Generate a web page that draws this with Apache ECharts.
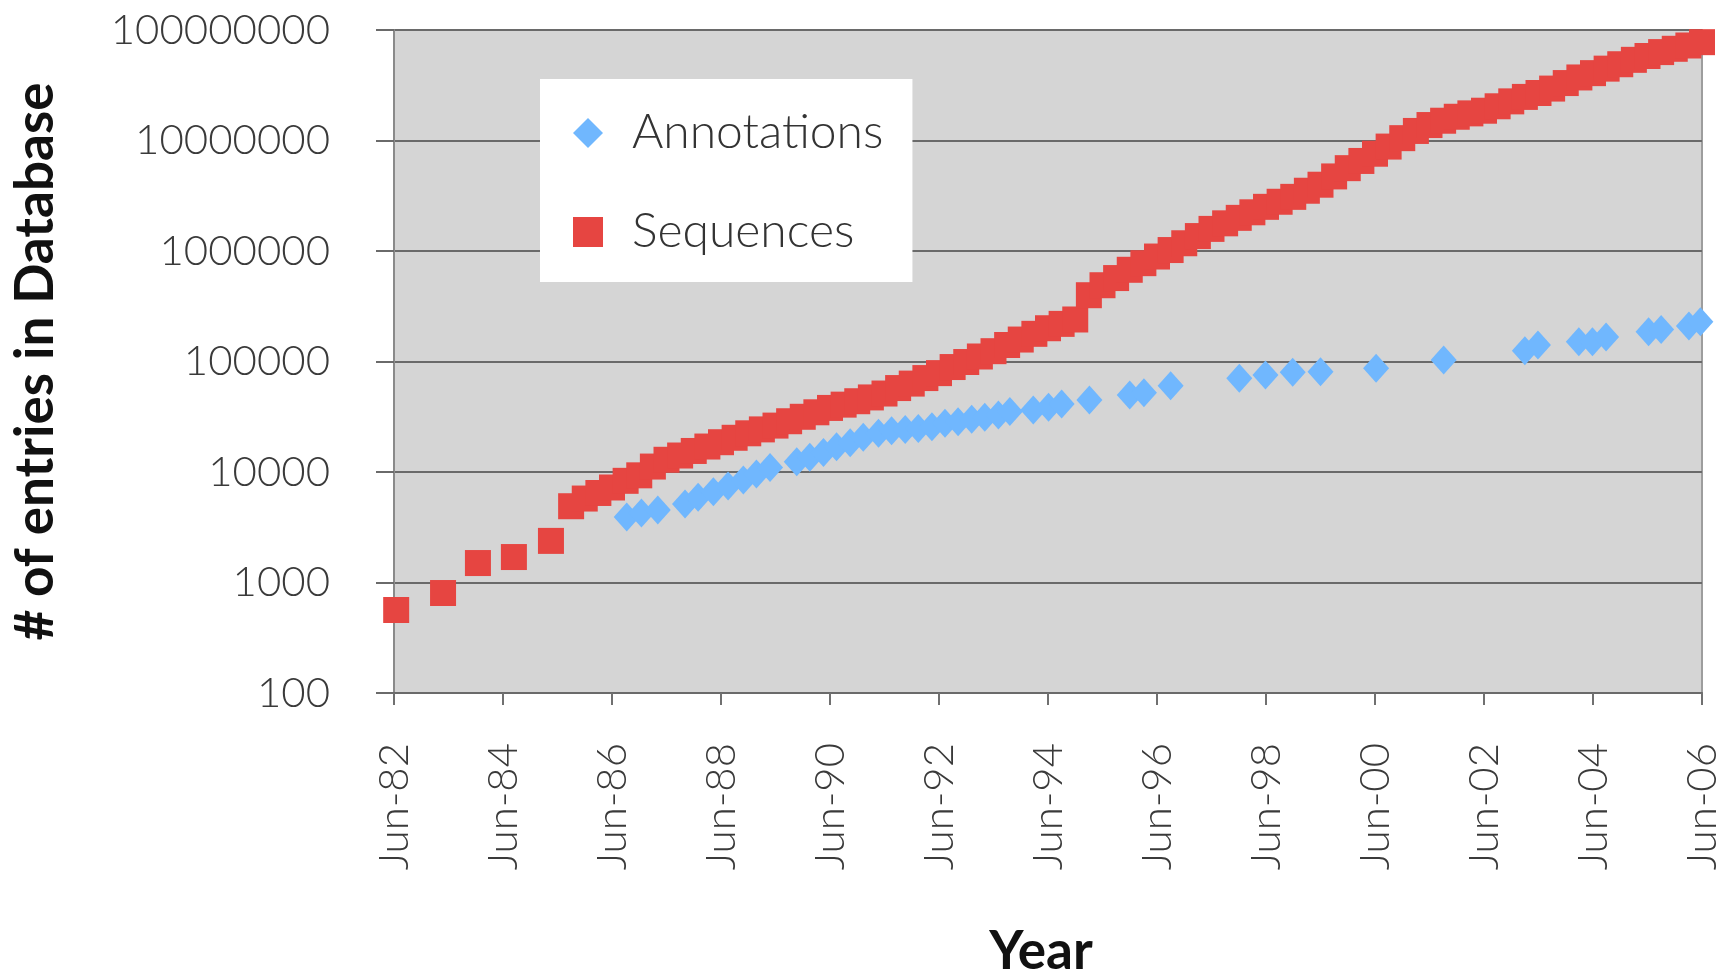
<!DOCTYPE html>
<html>
<head>
<meta charset="utf-8">
<title>Database growth</title>
<script src="https://cdn.jsdelivr.net/npm/echarts@6/dist/echarts.min.js"></script>
<style>
  html, body { margin: 0; padding: 0; background: #fff; }
  #chart { width: 1730px; height: 972px; }
</style>
</head>
<body>
<div id="chart"></div>
<script>
// tick labels of the date axis, one per two years
var xTickLabels = ['Jun-82', 'Jun-84', 'Jun-86', 'Jun-88', 'Jun-90', 'Jun-92', 'Jun-94',
    'Jun-96', 'Jun-98', 'Jun-00', 'Jun-02', 'Jun-04', 'Jun-06'];
var yTickLabels = ['100', '1000', '10000', '100000', '1000000', '10000000', '100000000'];

// Annotations (blue diamonds), decimal year / count
var annotationYears = [1986.77, 1987.04, 1987.34, 1987.84, 1988.08, 1988.36, 1988.63, 1988.91,
    1989.15, 1989.4, 1989.89, 1990.13, 1990.38, 1990.62, 1990.87, 1991.11, 1991.39, 1991.63,
    1991.88, 1992.12, 1992.37, 1992.61, 1992.85, 1993.1, 1993.34, 1993.59, 1993.8, 1994.23,
    1994.51, 1994.75, 1995.26, 1996.0, 1996.26, 1996.75, 1998.01, 1998.49, 1998.99, 1999.5,
    2000.52, 2001.76, 2003.25, 2003.49, 2004.24, 2004.49, 2004.74, 2005.52, 2005.75, 2006.26,
    2006.47];
var annotationCounts = [3920, 4250, 4530, 5130, 5900, 6640, 7470, 8470,
    9600, 11000, 12400, 13600, 15000, 16900, 18400, 20600, 22400, 23600,
    24300, 24800, 25700, 27600, 28500, 30000, 31300, 32800, 35200, 36400,
    38500, 41200, 44800, 49800, 52200, 60400, 70500, 75500, 79800, 80900,
    86700, 103000, 125000, 141000, 151000, 151000, 167000, 186000, 195000, 209000,
    229000];

// Sequences (red squares), decimal year / count
var sequenceYears = [1982.54, 1983.4, 1984.04, 1984.7, 1985.38,
    1985.75, 1986.0, 1986.25, 1986.5, 1986.75, 1987.0, 1987.25, 1987.5, 1987.75,
    1988.0, 1988.25, 1988.5, 1988.75, 1989.0, 1989.25, 1989.5, 1989.75,
    1990.0, 1990.25, 1990.5, 1990.75, 1991.0, 1991.25, 1991.5, 1991.75,
    1992.0, 1992.25, 1992.5, 1992.75, 1993.0, 1993.25, 1993.5, 1993.75,
    1994.0, 1994.25, 1994.5, 1994.75, 1995.0, 1995.25, 1995.5, 1995.75,
    1996.0, 1996.25, 1996.5, 1996.75, 1997.0, 1997.25, 1997.5, 1997.75,
    1998.0, 1998.25, 1998.5, 1998.75, 1999.0, 1999.25, 1999.5, 1999.75,
    2000.0, 2000.25, 2000.5, 2000.75, 2001.0, 2001.25, 2001.5, 2001.75,
    2002.0, 2002.25, 2002.5, 2002.75, 2003.0, 2003.25, 2003.5, 2003.75,
    2004.0, 2004.25, 2004.5, 2004.75, 2005.0, 2005.25, 2005.5, 2005.75,
    2006.0, 2006.25, 2006.5];
var sequenceCounts = [564, 803, 1500, 1700, 2380,
    4900, 5750, 6460, 7240, 8320, 9330, 11200, 12900, 14100,
    15500, 17000, 18600, 20400, 22400, 24300, 26300, 28800,
    31600, 34700, 38000, 40700, 43700, 47300, 51300, 57500,
    63100, 70800, 78500, 89100, 98900, 111000, 124000, 141000,
    158000, 178000, 200000, 219000, 240000, 398000, 490000, 569000,
    676000, 776000, 891000, 1020000, 1175000, 1365000, 1585000, 1780000,
    1995000, 2240000, 2510000, 2790000, 3090000, 3510000, 3980000, 4730000,
    5620000, 6530000, 7590000, 8810000, 10500000, 12200000, 13800000, 15100000,
    16400000, 17600000, 18600000, 20400000, 22600000, 24800000, 26900000, 29500000,
    33100000, 37200000, 40700000, 44700000, 49000000, 53700000, 58200000, 63100000,
    67600000, 72400000, 77600000];

var startYear = 1982.5; // Jun-82 is the left end of the axis

function toPoints(years, counts) {
    var out = [];
    for (var i = 0; i < years.length; i++) {
        out.push([years[i] - startYear, counts[i]]);
    }
    return out;
}

var labelFont = { fontFamily: 'Lato', fontWeight: 300, fontSize: 42, color: '#3a3a3a' };

var myChart = echarts.init(document.getElementById('chart'));
var option = {
    animation: false,
    backgroundColor: '#fff',
    grid: {
        left: 394, top: 30, right: 28, bottom: 279,
        outerBoundsMode: 'none',
        show: true,
        backgroundColor: '#d5d5d5',
        borderColor: '#9d9d9d',
        borderWidth: 2
    },
    legend: {
        data: ['Annotations', 'Sequences'],
        orient: 'vertical',
        left: 540,
        top: 79,
        backgroundColor: '#fff',
        padding: [30, 29, 26, 33],
        itemWidth: 30,
        itemHeight: 30,
        itemGap: 51,
        textStyle: {
            fontFamily: 'Lato', fontWeight: 300, fontSize: 48, color: '#333',
            padding: [0, 0, 0, 24]
        }
    },
    xAxis: {
        type: 'value',
        min: 0,
        max: 24,
        interval: 2,
        name: 'Year',
        nameLocation: 'middle',
        nameGap: 232,
        nameTextStyle: {
            fontFamily: 'Lato', fontWeight: 'bold', fontSize: 53, color: '#111',
            padding: [0, 14, 0, 0]
        },
        axisLine: { lineStyle: { color: '#6a6a6a', width: 2 } },
        axisTick: { length: 12, lineStyle: { color: '#707070', width: 2 } },
        axisLabel: Object.assign({
            rotate: 90,
            margin: 50,
            formatter: function (v) { return xTickLabels[Math.round(v / 2)]; }
        }, labelFont),
        splitLine: { show: false }
    },
    yAxis: {
        type: 'log',
        logBase: 10,
        min: 100,
        max: 100000000,
        name: '# of entries in Database',
        nameLocation: 'middle',
        nameGap: 332,
        nameTextStyle: { fontFamily: 'Lato', fontWeight: 'bold', fontSize: 53, color: '#111' },
        axisLine: { show: true, lineStyle: { color: '#8a8a8a', width: 2 } },
        axisTick: { show: true, length: 18, lineStyle: { color: '#6a6a6a', width: 2 } },
        axisLabel: Object.assign({
            margin: 64,
            formatter: function (v) {
                return yTickLabels[Math.round(Math.log10(v)) - 2];
            }
        }, labelFont),
        splitLine: { show: true, lineStyle: { color: '#6a6a6a', width: 2 } }
    },
    series: [
        {
            name: 'Annotations',
            type: 'scatter',
            symbol: 'diamond',
            symbolSize: [26, 29],
            itemStyle: { color: '#70b7fe', opacity: 1 },
            data: toPoints(annotationYears, annotationCounts)
        },
        {
            name: 'Sequences',
            type: 'scatter',
            symbol: 'rect',
            symbolSize: 26,
            itemStyle: { color: '#e64541', opacity: 1 },
            data: toPoints(sequenceYears, sequenceCounts)
        }
    ]
};
myChart.setOption(option);
window.onresize = myChart.resize;
</script>
</body>
</html>
